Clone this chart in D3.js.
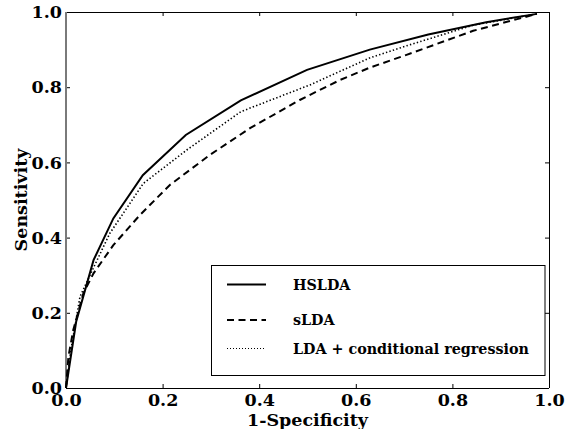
<!DOCTYPE html>
<html>
<head>
<meta charset="utf-8">
<script src="https://cdn.jsdelivr.net/npm/d3@7"></script>
<style>
  body { margin: 0; background: #fff; }
  svg { display: block; }
  text { font-family: 'DejaVu Serif', serif; font-weight: bold; fill: #000; }
</style>
</head>
<body>
<div id="chart"></div>
<script>
// ROC curves, values
const hsldaFpr = [0, 0.021, 0.057, 0.098, 0.159, 0.248, 0.362, 0.499, 0.629, 0.75, 0.87, 0.975]
const hsldaTpr = [0, 0.176, 0.340, 0.451, 0.566, 0.673, 0.765, 0.846, 0.900, 0.940, 0.973, 0.995]

const sldaFpr = [0, 0.005, 0.015, 0.036, 0.057, 0.098, 0.153, 0.215, 0.298, 0.381, 0.484, 0.567, 0.629, 0.705, 0.843, 0.975]
const sldaTpr = [0, 0.083, 0.154, 0.252, 0.305, 0.380, 0.460, 0.540, 0.620, 0.691, 0.766, 0.819, 0.852, 0.886, 0.950, 0.995]

const ldaFpr = [0, 0.010, 0.029, 0.057, 0.091, 0.160, 0.250, 0.362, 0.505, 0.629, 0.705, 0.843, 0.975]
const ldaTpr = [0, 0.100, 0.243, 0.320, 0.412, 0.544, 0.633, 0.735, 0.806, 0.878, 0.910, 0.965, 0.995]

const seriesNames = ['HSLDA', 'sLDA', 'LDA + conditional regression']
const xTicks = [0, 0.2, 0.4, 0.6, 0.8, 1.0]
const yTicks = [0, 0.2, 0.4, 0.6, 0.8, 1.0]

const width = 565
const height = 429
const margin = { top: 12, right: 16, bottom: 41, left: 66 }
const w = width - margin.left - margin.right
const h = height - margin.top - margin.bottom

const svg = d3.select('#chart').append('svg')
    .attr('width', width)
    .attr('height', height)

const g = svg.append('g')
    .attr('transform', 'translate(' + margin.left + ',' + margin.top + ')')

const x = d3.scaleLinear().domain([0, 1]).range([0, w])
const y = d3.scaleLinear().domain([0, 1]).range([h, 0])

// inward ticks on all four sides
const tickLen = 4
g.append('g')
    .attr('transform', 'translate(0,' + h + ')')
    .call(d3.axisBottom(x).tickValues(xTicks).tickSize(-tickLen).tickPadding(6).tickFormat(d3.format('.1f')))
g.append('g')
    .call(d3.axisTop(x).tickValues(xTicks).tickSize(-tickLen).tickFormat(''))
g.append('g')
    .call(d3.axisLeft(y).tickValues(yTicks).tickSize(-tickLen).tickPadding(4).tickFormat(d3.format('.1f')))
g.append('g')
    .attr('transform', 'translate(' + w + ',0)')
    .call(d3.axisRight(y).tickValues(yTicks).tickSize(-tickLen).tickFormat(''))

g.selectAll('.domain').remove()
g.selectAll('.tick line').attr('stroke', '#000').attr('stroke-width', 1)
g.selectAll('.tick text')
    .style('font-family', "'DejaVu Serif', serif")
    .style('font-weight', 'bold')
    .style('font-size', '17.5px')
    .attr('fill', '#000')

// frame
g.append('line').attr('x1', 0).attr('x2', w).attr('y1', 0.5).attr('y2', 0.5).attr('stroke', '#000')
g.append('line').attr('x1', 0).attr('x2', w).attr('y1', h + 0.5).attr('y2', h + 0.5).attr('stroke', '#000')
g.append('line').attr('x1', w + 0.5).attr('x2', w + 0.5).attr('y1', 0).attr('y2', h).attr('stroke', '#000')
g.append('line').attr('x1', 0).attr('x2', 0).attr('y1', 0).attr('y2', h).attr('stroke', '#7a7a7a').attr('stroke-width', 2)

const line = d3.line()
    .x(d => x(d[0]))
    .y(d => y(d[1]))

const styles = [
    { dash: null, width: 2 },
    { dash: '7,4.5', width: 2 },
    { dash: '1.4,2.2', width: 1.6 },
]

const series = [
    d3.zip(hsldaFpr, hsldaTpr),
    d3.zip(sldaFpr, sldaTpr),
    d3.zip(ldaFpr, ldaTpr),
]

// draw dotted and dashed first so the solid sits on top
;[2, 1, 0].forEach(i => {
    g.append('path')
        .datum(series[i])
        .attr('d', line)
        .attr('fill', 'none')
        .attr('stroke', '#000')
        .attr('stroke-width', styles[i].width)
        .attr('stroke-dasharray', styles[i].dash)
})

// legend
const legend = svg.append('g')
legend.append('rect')
    .attr('x', 211.5).attr('y', 265.5)
    .attr('width', 333.5).attr('height', 110)
    .attr('fill', '#fff')
    .attr('stroke', '#000')
    .attr('stroke-width', 1)

const rowY = [284.5, 320, 348.5]
seriesNames.forEach((name, i) => {
    legend.append('line')
        .attr('x1', 227).attr('x2', 266)
        .attr('y1', rowY[i]).attr('y2', rowY[i])
        .attr('stroke', '#000')
        .attr('stroke-width', i === 2 ? 1 : styles[i].width)
        .attr('stroke-dasharray', i === 2 ? '1,2' : styles[i].dash)
    legend.append('text')
        .attr('x', 293)
        .attr('y', rowY[i])
        .attr('dy', '0.36em')
        .style('font-size', '14.3px')
        .text(name)
})

// axis labels
svg.append('text')
    .attr('x', margin.left + w / 2)
    .attr('y', 426)
    .attr('text-anchor', 'middle')
    .style('font-size', '17.5px')
    .text('1-Specificity')

svg.append('text')
    .attr('transform', 'translate(27,' + (margin.top + h / 2) + ') rotate(-90)')
    .attr('text-anchor', 'middle')
    .style('font-size', '17.5px')
    .text('Sensitivity')
</script>
</body>
</html>
